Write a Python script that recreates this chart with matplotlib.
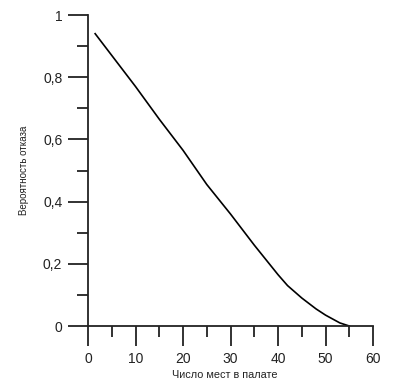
import matplotlib
matplotlib.use("Agg")
import matplotlib.pyplot as plt
from matplotlib.ticker import MultipleLocator, FuncFormatter

plt.rcParams['font.family'] = ['Liberation Sans', 'DejaVu Sans']

# число мест в палате / вероятность отказа
beds = [1.5, 5, 10, 15, 20, 25, 30, 35, 40, 42, 45, 48, 50, 53, 55]
p_fail = [0.94, 0.87, 0.77, 0.665, 0.565, 0.455, 0.36, 0.26, 0.165, 0.13, 0.09, 0.055, 0.035, 0.01, 0.0]

fig = plt.figure(figsize=(3.99, 3.85), dpi=100)
ax = fig.add_axes([0.2206, 0.1532, 0.935 - 0.2206, 0.961 - 0.1532])

ax.plot(beds, p_fail, color="black", lw=1.2)

ax.set_xlim(0, 60)
ax.set_ylim(0, 1)
for s in ("top", "right"):
    ax.spines[s].set_visible(False)
for s in ("left", "bottom"):
    ax.spines[s].set_linewidth(1.3)
    ax.spines[s].set_color("#222222")

ax.xaxis.set_major_locator(MultipleLocator(10))
ax.xaxis.set_minor_locator(MultipleLocator(5))
ax.yaxis.set_major_locator(MultipleLocator(0.2))
ax.yaxis.set_minor_locator(MultipleLocator(0.1))
ax.yaxis.set_major_formatter(FuncFormatter(lambda v, p: ("%g" % round(v, 1)).replace(".", ",")))

ax.tick_params(which="major", direction="out", length=14.5, width=1.3, labelsize=10, pad=4,
               color="#222222", labelcolor="#222222")
ax.tick_params(which="minor", direction="out", length=8, width=1.3, color="#222222")

ax.set_xlabel("Число мест в палате", fontsize=7.8, labelpad=1, color="#222222")
ax.xaxis.set_label_coords(0.48, -0.14)
ax.set_ylabel("Вероятность отказа", fontsize=7, labelpad=10, color="#222222")

fig.savefig("out.png", dpi=100)
